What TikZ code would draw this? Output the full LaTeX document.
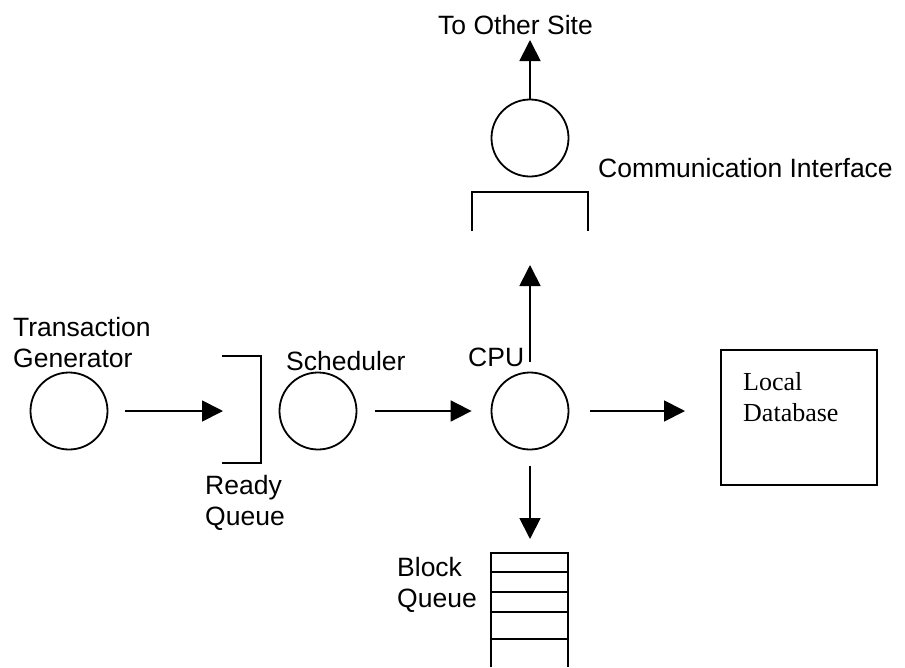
\documentclass[tikz,border=0pt]{standalone}
\usepackage{fontspec}
\setmainfont{Liberation Sans}
\newfontfamily\timesfont{Liberation Serif}
\usetikzlibrary{arrows.meta}
\tikzset{
  lbl/.style={inner sep=0pt, anchor=north west, align=left, font=\fontsize{26.5}{31}\selectfont},
  dblbl/.style={inner sep=0pt, anchor=north west, align=left, font=\timesfont\fontsize{26}{31}\selectfont},
  server/.style={circle, draw, line width=1.8pt, minimum size=77pt, inner sep=0pt},
  arr/.style={line width=1.8pt, -{Triangle[length=21pt,width=21pt]}},
  brk/.style={line width=2pt},
  qline/.style={line width=2.6pt},
}
\begin{document}
\begin{tikzpicture}[x=1pt,y=-1pt]
\useasboundingbox (0,0) rectangle (905,667);
% servers
\node[server] (tg) at (69,411) {};
\node[server] (sch) at (318,411) {};
\node[server] (cpu) at (530,411) {};
\node[server] (ci) at (530,138) {};
% database
\node[draw, line width=2pt, minimum width=156pt, minimum height=135pt, inner sep=0pt] (db) at (799,417) {};
% labels
\node[lbl] (tgl) at (13,317) {Transaction\\Generator};
\node[lbl] (schl) at (286,351) {Scheduler};
\node[lbl] (cpul) at (468,348) {CPU};
\node[lbl] (rql) at (205,475) {Ready\\Queue};
\node[lbl] (bql) at (397,557) {Block\\Queue};
\node[lbl] (cil) at (598,158) {Communication Interface};
\node[lbl] (tos) at (438,15) {To Other Site};
\node[dblbl] (dbl) at (743,372) {Local\\Database};
% ready queue bracket
\coordinate (rqa) at (222,356);
\coordinate (rqb) at (261,356);
\coordinate (rqc) at (261,463);
\coordinate (rqd) at (222,463);
\draw[brk] (rqa) -- (rqb) -- (rqc) -- (rqd);
\coordinate (rqin) at (223,411);
% communication bracket
\coordinate (cia) at (472,231);
\coordinate (cib) at (472,192);
\coordinate (cic) at (588,192);
\coordinate (cid) at (588,231);
\draw[brk] (cia) -- (cib) -- (cic) -- (cid);
% block queue
\coordinate (bq1) at (491,553);
\coordinate (bq2) at (568,553);
\coordinate (bq3) at (491,667);
\coordinate (bq4) at (568,667);
\draw[qline] (bq3) -- (bq1) -- (bq2) -- (bq4);
\foreach \yy in {572,592,612,639} \draw[qline] (491,\yy) -- (568,\yy);
% arrows
\draw[arr, shorten <=17pt] (tg.east) -- (rqin);
\draw[arr, shorten <=18pt, shorten >=19pt] (sch.east) -- (cpu.west);
\draw[arr, shorten <=21pt, shorten >=35pt] (cpu.east) -- (cpu.east -| db.west);
\coordinate (cpuup) at (530,265);
\draw[arr, shorten <=10pt] (cpu.north) -- (cpuup);
\draw[arr, shorten <=16pt, shorten >=14pt] (cpu.south) -- (bq1 -| cpu);
\coordinate (toss) at (530,40);
\draw[arr] (ci.north) -- (toss);
\end{tikzpicture}
\end{document}
